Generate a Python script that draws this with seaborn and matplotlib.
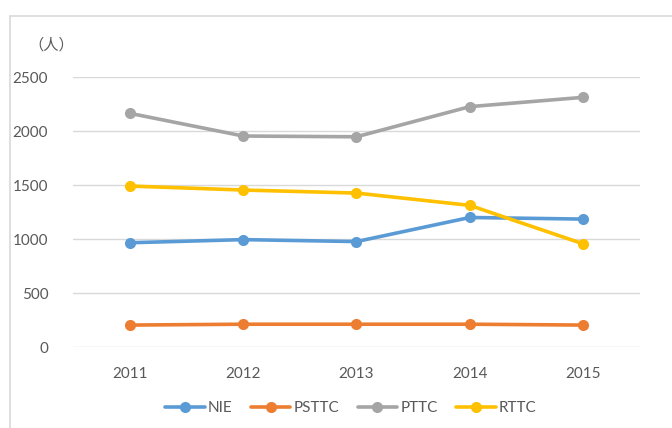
import pandas as pd
import matplotlib.pyplot as plt
from matplotlib.lines import Line2D
import seaborn as sns

sns.set_theme(style="white")
plt.rcParams["font.family"] = ["Lato", "Noto Sans CJK SC", "DejaVu Sans"]

# Data
YEARS = [2011, 2012, 2013, 2014, 2015]
NIE = [966, 995, 977, 1200, 1185]
PSTTC = [204, 212, 212, 212, 204]
PTTC = [2164, 1954, 1947, 2226, 2312]
RTTC = [1491, 1454, 1426, 1312, 956]

SERIES = ["NIE", "PSTTC", "PTTC", "RTTC"]
COLORS = ["#5B9BD5", "#ED7D31", "#A5A5A5", "#FFC000"]
YTICKS = [0, 500, 1000, 1500, 2000, 2500]

df = pd.DataFrame({
    "year": YEARS * 4,
    "value": NIE + PSTTC + PTTC + RTTC,
    "series": sum([[s] * len(YEARS) for s in SERIES], []),
})

fig = plt.figure(figsize=(6.72, 4.28), dpi=100)
ax = fig.add_axes([0.109, 0.189, 0.843, 0.631])

sns.lineplot(data=df, x="year", y="value", hue="series", hue_order=SERIES,
             palette=COLORS, marker="o", markersize=8, markeredgewidth=0,
             linewidth=2.6, ax=ax, legend=False)

ax.set_xlim(2010.5, 2015.5)
ax.set_ylim(0, 2500)
ax.set_xticks(YEARS)
ax.set_xticklabels([str(y) for y in YEARS])
ax.set_yticks(YTICKS)
ax.set_yticklabels([str(v) for v in YTICKS])
ax.tick_params(axis="both", length=0, labelsize=11, colors="#595959")
ax.tick_params(axis="y", pad=18)
ax.tick_params(axis="x", pad=14)
ax.yaxis.grid(True, color="#D9D9D9", linewidth=1)
ax.set_axisbelow(True)
for sp in ax.spines.values():
    sp.set_visible(False)
ax.set_xlabel("")
ax.set_ylabel("")

fig.text(0.042, 0.895, "（人）", fontsize=11, color="#595959",
         family=["Noto Sans CJK SC", "DejaVu Sans"], ha="left", va="center")

handles = [Line2D([0], [0], color=c, linewidth=2.6, marker="o", markersize=8,
                  markeredgewidth=0) for c in COLORS]
fig.legend(handles, SERIES, loc="center", bbox_to_anchor=(0.522, 0.047), ncol=4,
           frameon=False, fontsize=11, labelcolor="#595959", handlelength=2.6,
           columnspacing=1.2, handletextpad=0.2)

# outer chart border (top and left edges visible in the crop)
fig.add_artist(Line2D([0.015, 1.0], [0.962, 0.962], color="#D9D9D9", linewidth=1.2,
                      transform=fig.transFigure))
fig.add_artist(Line2D([0.015, 0.015], [0.0, 0.962], color="#D9D9D9", linewidth=1.2,
                      transform=fig.transFigure))

fig.savefig("out.png", dpi=100)
